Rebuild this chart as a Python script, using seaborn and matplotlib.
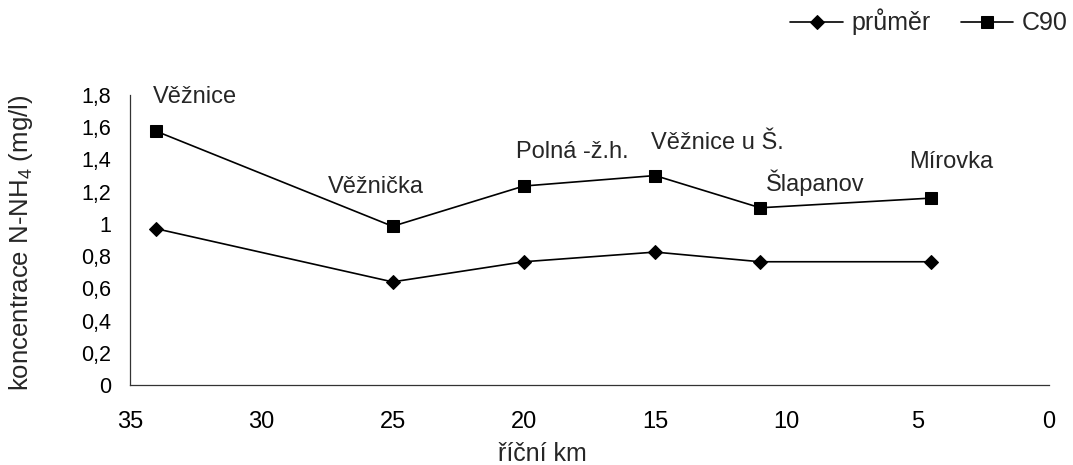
import pandas as pd
import matplotlib
matplotlib.use("Agg")
import matplotlib.pyplot as plt
import seaborn as sns
from matplotlib.ticker import MultipleLocator, FuncFormatter

# river km of each station and measured values (mg/l)
km = [34, 25, 20, 15, 11, 4.5]
stanice = ["Věžnice", "Věžnička", "Polná -ž.h.", "Věžnice u Š.", "Šlapanov", "Mírovka"]
prumer = [0.97, 0.64, 0.765, 0.825, 0.765, 0.765]
c90 = [1.575, 0.985, 1.235, 1.30, 1.10, 1.16]

# label offsets (pixels) relative to the C90 point
label_dx = [-3, -65, -8, -4, 6, -22]
label_dy = [34, 39, 34, 33, 25, 36]

sns.set_style("white")
plt.rcParams["font.family"] = ["Liberation Sans", "DejaVu Sans"]
plt.rcParams["mathtext.fontset"] = "custom"
plt.rcParams["mathtext.rm"] = "Liberation Sans"

df = pd.DataFrame({"km": km, "průměr": prumer, "C90": c90})

fig = plt.figure(figsize=(10.73, 4.65), dpi=100)
ax = fig.add_axes([130 / 1073, 1 - 385 / 465, 919 / 1073, 290 / 465])

sns.lineplot(data=df, x="km", y="průměr", ax=ax, color="black", marker="D",
             markersize=7.5, linewidth=1.2, markeredgecolor="black", label="průměr")
sns.lineplot(data=df, x="km", y="C90", ax=ax, color="black", marker="s",
             markersize=8, linewidth=1.2, markeredgecolor="black", label="C90")

for i, name in enumerate(stanice):
    ax.annotate(name, (km[i], c90[i]), xytext=(label_dx[i], label_dy[i]),
                textcoords="offset pixels", ha="left", va="center", fontsize=17)

ax.set_xlim(35, 0)
ax.set_ylim(0, 1.8)
ax.xaxis.set_major_locator(MultipleLocator(5))
ax.yaxis.set_major_locator(MultipleLocator(0.2))
ax.xaxis.set_major_formatter(FuncFormatter(lambda v, p: f"{v:g}"))
ax.yaxis.set_major_formatter(FuncFormatter(lambda v, p: f"{round(v, 1):g}".replace(".", ",")))
ax.tick_params(axis="both", direction="out", length=5.8, width=0.8, colors="black")
ax.tick_params(axis="x", labelsize=17, pad=13)
ax.tick_params(axis="y", labelsize=15.5, pad=8)

sns.despine(ax=ax)
for side in ["left", "bottom"]:
    ax.spines[side].set_color("#333333")
    ax.spines[side].set_linewidth(0.9)

ax.set_xlabel("říční km", fontsize=18)
ax.xaxis.set_label_coords(0.449, -0.195)
ax.set_ylabel("koncentrace N-NH$_\\mathrm{4}$ (mg/l)", fontsize=18.5)
ax.yaxis.set_label_coords(-0.103, 0.49)

ax.get_legend().remove()
handles, labels = ax.get_legend_handles_labels()
fig.legend(handles, labels, loc="center right", bbox_to_anchor=(1068 / 1073, 1 - 22 / 465),
           ncol=2, frameon=False, fontsize=18, handlelength=2.1, handletextpad=0.35,
           columnspacing=1.2, borderpad=0, borderaxespad=0)

fig.savefig("out.png", dpi=100)
